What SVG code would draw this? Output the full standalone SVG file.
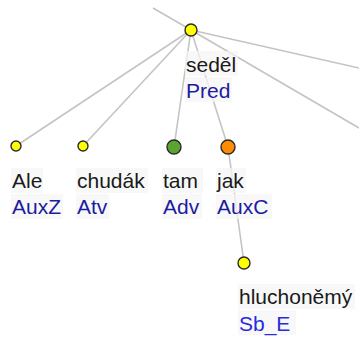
<svg xmlns="http://www.w3.org/2000/svg" width="359" height="338" viewBox="0 0 359 338">
<style>
.edge{stroke:#c4c4c4;stroke-width:1.6;fill:none}
.bg{fill:#f6f6f6;fill-opacity:0.75}
.form{font-family:"Liberation Sans",Arial,sans-serif;font-size:21px;fill:#1a1a1a}
.afun{font-family:"Liberation Sans",Arial,sans-serif;font-size:21px;fill:#1c1ca0}
.node{stroke:#2a2a2a;stroke-width:1.4}
.y{fill:#ffff00}
</style>
<defs>
<clipPath id="cAtv"><rect x="75" y="194" width="33" height="26"/></clipPath>
<clipPath id="cAdv"><rect x="161" y="194" width="41" height="26"/></clipPath>
</defs>
<rect width="359" height="338" fill="#ffffff"/>
<g id="connectors">
<line class="edge" x1="153" y1="8" x2="191" y2="30"/>
<line class="edge" x1="191" y1="30" x2="359" y2="68"/>
<line class="edge" x1="191" y1="30" x2="359" y2="128"/>
<line class="edge" x1="191" y1="30" x2="16" y2="146"/>
<line class="edge" x1="191" y1="30" x2="83" y2="146"/>
<line class="edge" x1="191" y1="30" x2="174" y2="147"/>
<line class="edge" x1="191" y1="30" x2="228" y2="147"/>
<line class="edge" x1="228" y1="147" x2="244" y2="263"/>
</g>
<g id="n-sedel">
<rect class="bg" x="185" y="51" width="53" height="25"/>
<rect class="bg" x="185" y="77" width="47" height="25"/>
<circle class="node y" cx="191" cy="30" r="6"/>
<text class="form" x="186" y="72">seděl</text>
<text class="afun" x="186" y="98">Pred</text>
</g>
<g id="n-ale">
<rect class="bg" x="11" y="168" width="32" height="25"/>
<rect class="bg" x="11" y="194" width="52" height="25"/>
<circle class="node y" cx="16" cy="146" r="5"/>
<text class="form" x="12" y="188">Ale</text>
<text class="afun" x="12" y="214">AuxZ</text>
</g>
<g id="n-chudak">
<rect class="bg" x="76" y="168" width="72" height="25"/>
<rect class="bg" x="76" y="194" width="33" height="25"/>
<circle class="node y" cx="83" cy="146" r="5"/>
<text class="form" x="77" y="188">chudák</text>
<text class="afun" x="77" y="214" clip-path="url(#cAtv)">Atv</text>
</g>
<g id="n-tam">
<rect class="bg" x="162" y="168" width="41" height="25"/>
<rect class="bg" x="162" y="194" width="40" height="25"/>
<circle cx="174" cy="147" r="7" fill="#5aa531" class="node"/>
<text class="form" x="163" y="188">tam</text>
<text class="afun" x="163" y="214" clip-path="url(#cAdv)">Adv</text>
</g>
<g id="n-jak">
<rect class="bg" x="216" y="168" width="30" height="25"/>
<rect class="bg" x="216" y="194" width="56" height="25"/>
<circle cx="228" cy="147" r="7" fill="#ff8c00" class="node"/>
<text class="form" x="217" y="188">jak</text>
<text class="afun" x="217" y="214">AuxC</text>
</g>
<g id="n-hluchonemy">
<rect class="bg" x="238" y="284" width="117" height="25"/>
<rect class="bg" x="238" y="310" width="58" height="25"/>
<circle class="node y" cx="244" cy="263" r="6"/>
<text class="form" x="239" y="304">hluchoněmý</text>
<text class="afun" x="239" y="331" style="fill:#2a2ae0">Sb_E</text>
</g>
</svg>
